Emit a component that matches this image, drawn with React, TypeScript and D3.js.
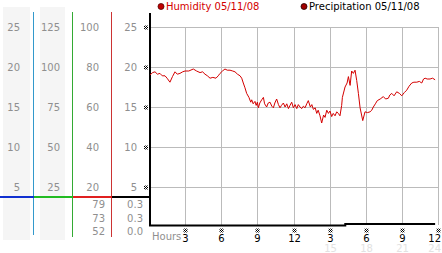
import React from "react";
import * as d3 from "d3";

const hourTicks = [3, 6, 9, 12, 15, 18, 21, 24];
const hourTickLabels = ["3", "6", "9", "12", "3", "6", "9", "12"];
const hourSubLabels = ["", "", "", "", "15", "18", "21", "24"];
const mainTicks = [25, 20, 15, 10, 5];
const col2Ticks = [125, 100, 75, 50, 25];
const humTicks = [100, 80, 60, 40, 20];
const humStats = ["79", "73", "52"];
const precipStats = ["0.3", "0.3", "0.0"];

const humHours = [0.08,0.3,0.5,0.7,0.91,1.1,1.33,1.5,1.74,1.95,2.16,2.35,2.57,2.8,2.99,3.3,3.68,3.95,4.24,4.45,4.65,4.85,5.07,5.3,5.56,5.75,5.9,6.1,6.31,6.5,6.73,6.95,7.14,7.35,7.56,7.7,7.83,7.97,8.11,8.3,8.45,8.53,8.65,8.8,8.9,9.0,9.08,9.2,9.36,9.5,9.6,9.77,9.9,10.05,10.2,10.33,10.45,10.6,10.75,10.88,11.0,11.16,11.3,11.44,11.58,11.71,11.85,11.99,12.13,12.27,12.4,12.54,12.68,12.82,12.96,13.1,13.23,13.4,13.52,13.65,13.8,13.93,14.05,14.2,14.34,14.5,14.62,14.76,14.9,15.03,15.17,15.3,15.45,15.59,15.72,15.86,16.0,16.06,16.28,16.45,16.56,16.7,16.83,16.97,17.11,17.25,17.39,17.53,17.75,17.94,18.15,18.36,18.5,18.63,18.8,18.96,19.2,19.46,19.65,19.88,20.0,20.16,20.35,20.57,20.8,20.99,21.2,21.4,21.6,21.82,22.0,22.24,22.45,22.65,22.8,22.93,23.1,23.34,23.55,23.76];
const humidity = [76,77.2,77.6,76.4,76.8,75.6,75.6,74.4,72.4,75.2,77.6,76.4,76.8,77.6,78,78,79,78,77.2,77.6,76.4,75.6,74.4,74.8,74.4,75.6,76.8,78,79,78.4,78.4,78,77.6,76.4,75.6,74.4,72,69.6,66.8,64.8,62.4,63.6,61.6,62.8,60.8,62.4,59.6,62,63.6,64.8,61.6,60,62,62.4,60.4,59.6,62,64,61.2,59.6,60.8,62,60,61.6,59.2,60.8,62.4,59.6,61.2,59.2,61.2,60,59.2,60.4,59.6,61.6,63.2,60,61.2,58.8,59.6,56.8,58.4,55.6,52,56,54.8,58.4,56.8,58,55.2,56.8,55.6,57.6,56.8,55.6,60.8,64.8,70,72,75.2,70.8,78,76.8,78.4,73.2,66.8,59.6,53.2,57.6,57.2,57.6,58.4,60,61.6,63.2,64,65.2,64,64.4,66,66.8,65.6,67.6,66.8,65.6,67.2,68.4,70.4,72,72.4,72.4,72.8,72,74,74.4,74,74,74.4,73.6];

const precipHours = [0, 16.3, 16.3, 23.76];
const precipitation = [0, 0, 0.3, 0.3];

const FONT = "'DejaVu Sans', Verdana, sans-serif";
const GRAY = "#8f8f8f";

function Marker({ x, y }: { x: number; y: number }) {
  return <rect x={x - 2} y={y - 2} width={4} height={4} fill="url(#chk)" />;
}

export default function App() {
  const x = d3.scaleLinear().domain([0, 24]).range([149, 438]);
  const yMain = d3.scaleLinear().domain([0, 25]).range([227, 27]);
  const yHum = d3.scaleLinear().domain([0, 100]).range([227, 27]);
  const yPrec = d3.scaleLinear().domain([0, 5]).range([225.5, 200.5]);

  const humLine = d3
    .line<number>()
    .x((_, i) => x(humHours[i]))
    .y((d) => yHum(d));
  const precLine = d3
    .line<number>()
    .x((_, i) => x(precipHours[i]))
    .y((d) => yPrec(d));

  const last = hourTicks.length - 1;

  return (
    <svg
      width={442}
      height={253}
      style={{ position: "absolute", left: 0, top: 0, background: "#fff" }}
      fontFamily={FONT}
      fontSize={10}
    >
      <defs>
        <pattern id="chk" width={2} height={2} patternUnits="userSpaceOnUse">
          <rect width={1} height={1} fill="#000" />
          <rect x={1} y={1} width={1} height={1} fill="#000" />
          <rect x={1} y={0} width={1} height={1} fill="#fff" />
          <rect x={0} y={1} width={1} height={1} fill="#fff" />
        </pattern>
      </defs>

      {/* left columns backgrounds */}
      <rect x={3} y={7} width={27} height={233} fill="#f5f5f5" />
      <rect x={40} y={7} width={25} height={233} fill="#f5f5f5" />

      {/* column separators */}
      <rect x={33} y={12} width={1} height={223} fill="#3399cc" />
      <rect x={72} y={12} width={1} height={225} fill="#33aa33" />
      <rect x={111} y={12} width={1} height={225} fill="#cc3333" />

      {/* colored horizontal baseline */}
      <rect x={0} y={196} width={34} height={2} fill="#1030d0" />
      <rect x={34} y={196} width={39} height={2} fill="#22bb22" />
      <rect x={73} y={196} width={39} height={2} fill="#e02020" />
      <rect x={112} y={196} width={38} height={2} fill="#000" />

      {/* column labels */}
      {mainTicks.map((t) => (
        <text key={"c1" + t} x={20} y={yMain(t) + 4} textAnchor="end" fill={GRAY}>
          {t}
        </text>
      ))}
      {col2Ticks.map((t, i) => (
        <text key={"c2" + t} x={60} y={yMain(mainTicks[i]) + 4} textAnchor="end" fill={GRAY}>
          {t}
        </text>
      ))}
      {humTicks.map((t) => (
        <text key={"c3" + t} x={99} y={yHum(t) + 4} textAnchor="end" fill={GRAY}>
          {t}
        </text>
      ))}
      {mainTicks.map((t) => (
        <text key={"c4" + t} x={137} y={yMain(t) + 4} textAnchor="end" fill={GRAY}>
          {t}
        </text>
      ))}
      {humStats.map((s, i) => (
        <text key={"hs" + i} x={105} y={208 + i * 13.5} textAnchor="end" fill={GRAY}>
          {s}
        </text>
      ))}
      {precipStats.map((s, i) => (
        <text key={"ps" + i} x={143} y={208 + i * 13.5} textAnchor="end" fill={GRAY}>
          {s}
        </text>
      ))}

      {/* grid */}
      {mainTicks.map((t) => (
        <rect key={"gh" + t} x={149} y={yMain(t)} width={289} height={1} fill="#bbb" />
      ))}
      {hourTicks.map((h) => (
        <rect key={"gv" + h} x={Math.round(x(h))} y={27} width={1} height={198} fill="#bbb" />
      ))}

      {/* markers on left axis */}
      {mainTicks.map((t) => (
        <Marker key={"m" + t} x={146} y={yMain(t) + 0.5} />
      ))}

      {/* axis */}
      <rect x={149} y={13} width={2} height={213} fill="#000" />

      {/* humidity line */}
      <path d={humLine(humidity) || ""} fill="none" stroke="#d40000" strokeWidth={1} />
      {/* precipitation line */}
      <path d={precLine(precipitation) || ""} fill="none" stroke="#000" strokeWidth={2} />

      {/* x axis labels */}
      <text x={152} y={240} fill={GRAY}>
        Hours
      </text>
      {hourTicks.map((h, i) => (
        <g key={"xt" + h}>
          <Marker x={Math.round(x(h)) + 0.5} y={230.5} />
          <text
            x={i === last ? 441 : Math.round(x(h)) + 0.5}
            y={242}
            textAnchor={i === last ? "end" : "middle"}
            fill="#000"
          >
            {hourTickLabels[i]}
          </text>
          {hourSubLabels[i] && (
            <text
              x={i === last ? 441 : Math.round(x(h)) + 0.5}
              y={252}
              textAnchor={i === last ? "end" : "middle"}
              fill="#e2e2e2"
            >
              {hourSubLabels[i]}
            </text>
          )}
        </g>
      ))}

      {/* legend */}
      <circle cx={161} cy={6.5} r={3} fill="#c00000" stroke="#500" strokeWidth={0.8} />
      <text x={166} y={10} fill="#d40000">
        Humidity 05/11/08
      </text>
      <circle cx={304} cy={6.5} r={3} fill="#a00000" stroke="#200" strokeWidth={0.8} />
      <text x={309} y={10} fill="#000">
        Precipitation 05/11/08
      </text>
    </svg>
  );
}
